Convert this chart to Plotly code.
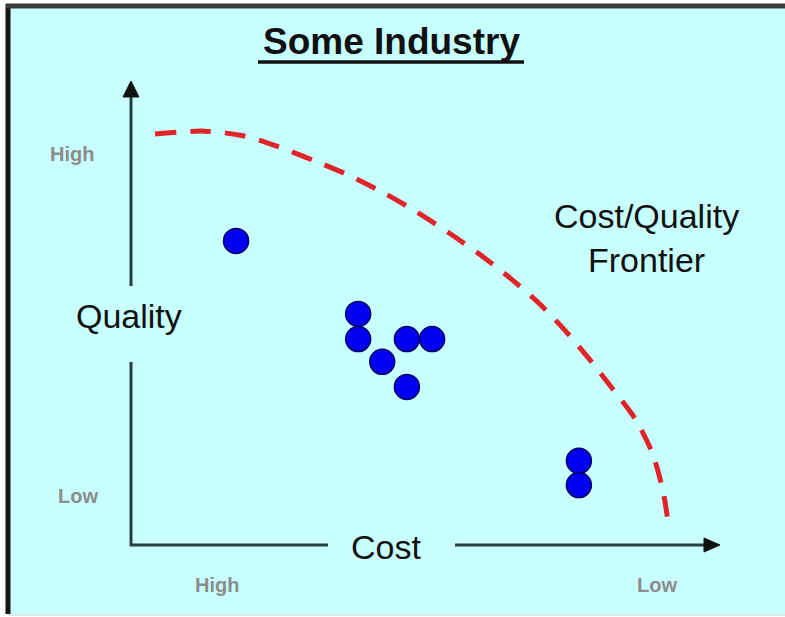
import plotly.graph_objects as go

# ---------------- data ----------------
# Cost axis: 0 = High cost (left) ... 100 = Low cost (right)
# Quality axis: 0 = Low ... 100 = High
company_cost = [17.9, 38.7, 38.7, 47.0, 51.3, 42.8, 47.0, 76.3, 76.3]
company_quality = [65.4, 49.7, 44.3, 44.3, 44.3, 39.4, 34.0, 18.1, 12.9]

frontier_cost = [4.1, 12.6, 19.1, 25.2, 31.3, 37.3, 43.1, 48.7, 54.2, 59.5,
                 64.6, 69.5, 73.9, 78.2, 82.1, 85.9, 88.8, 90.6, 91.5]
frontier_quality = [88.4, 89.0, 88.0, 85.6, 82.6, 79.4, 75.7, 71.6, 67.1, 62.4,
                    57.4, 52.0, 46.2, 39.8, 33.5, 27.1, 19.8, 11.8, 4.9]

title_text = "Some Industry"
x_axis_title = "Cost"
y_axis_title = "Quality"
x_tick_labels = ["High", "Low"]
y_tick_labels = ["High", "Low"]
frontier_label = "Cost/Quality<br>Frontier"

# ---------------- layout helpers ----------------
W, H = 785, 617
BG = "#c8ffff"
AXIS_COLOR = "#243f3f"
GRAY = "#8c8c8c"
FONT = "Liberation Sans, Arial, sans-serif"


def px(x, y):
    """pixel -> paper coordinates"""
    return x / W, 1 - y / H


def line_px(x0, y0, x1, y1, color, width):
    a, b = px(x0, y0)
    c, d = px(x1, y1)
    return dict(type="line", xref="paper", yref="paper", x0=a, y0=b, x1=c, y1=d,
                line=dict(color=color, width=width), layer="below")


def tri_px(pts, color):
    s = "M " + " L ".join(f"{px(x, y)[0]:.5f},{px(x, y)[1]:.5f}" for x, y in pts) + " Z"
    return dict(type="path", xref="paper", yref="paper", path=s,
                fillcolor=color, line=dict(color=color, width=1), layer="below")


def text_px(x, y, text, size, color="#111111", bold=False):
    a, b = px(x, y)
    return dict(x=a, y=b, xref="paper", yref="paper", text=f"<b>{text}</b>" if bold else text,
                showarrow=False, xanchor="center", yanchor="middle",
                font=dict(family=FONT, size=size, color=color))


fig = go.Figure()

fig.add_trace(go.Scatter(
    x=frontier_cost, y=frontier_quality, mode="lines",
    line=dict(color="#e0242a", width=5, dash="21px,14px", shape="spline", smoothing=0.8),
    hoverinfo="skip", showlegend=False))

fig.add_trace(go.Scatter(
    x=company_cost, y=company_quality, mode="markers",
    marker=dict(size=25, color="#0000f0", line=dict(color="#000060", width=1.5)),
    showlegend=False))

# data mapping: px = 131 + 5.87*x ; py = 545 - 4.65*y
x_range = [-131 / 5.87, (W - 131) / 5.87]
y_range = [(545 - H) / 4.65, 545 / 4.65]

shapes = []
# frame
a0, b0 = px(7, 6)
a1, b1 = px(W, 614)
shapes.append(dict(type="rect", xref="paper", yref="paper", x0=a0, y0=b1, x1=a1, y1=b0,
                   fillcolor=BG, line=dict(width=0), layer="below"))
shapes.append(line_px(8, 4, 8, 614, "#151515", 5))
shapes.append(line_px(6, 6, W, 6, "#3a3a3a", 5))
shapes.append(line_px(8, 615, W, 615, "#d8e8e8", 2))
# axes
shapes.append(line_px(131, 546, 131, 362, AXIS_COLOR, 3))
shapes.append(line_px(131, 286, 131, 95, AXIS_COLOR, 3))
shapes.append(line_px(130, 545, 328, 545, AXIS_COLOR, 3))
shapes.append(line_px(455, 545, 706, 545, AXIS_COLOR, 3))
shapes.append(tri_px([(131, 81), (123, 97), (139, 97)], "#111111"))
shapes.append(tri_px([(720, 545), (704, 538), (704, 552)], "#111111"))
# title underline
shapes.append(line_px(258, 62, 524, 62, "#111111", 3.5))

annotations = [
    text_px(391, 42, title_text, 37, bold=True),
    text_px(129, 316, y_axis_title, 34),
    text_px(386, 547, x_axis_title, 34),
    text_px(72, 154, y_tick_labels[0], 20, GRAY, bold=True),
    text_px(78, 496, y_tick_labels[1], 20, GRAY, bold=True),
    text_px(217, 585, x_tick_labels[0], 20, GRAY, bold=True),
    text_px(657, 585, x_tick_labels[1], 20, GRAY, bold=True),
]
a, b = px(646, 238)
annotations.append(dict(x=a, y=b, xref="paper", yref="paper", text=frontier_label,
                        showarrow=False, xanchor="center", yanchor="middle", align="center",
                        font=dict(family=FONT, size=34, color="#111111")))

fig.update_layout(
    width=W, height=H, autosize=False,
    margin=dict(l=0, r=0, t=0, b=0, pad=0),
    paper_bgcolor="white", plot_bgcolor="rgba(0,0,0,0)",
    xaxis=dict(range=x_range, visible=False, domain=[0, 1], fixedrange=True),
    yaxis=dict(range=y_range, visible=False, domain=[0, 1], fixedrange=True),
    shapes=shapes, annotations=annotations, showlegend=False,
)

fig.write_html("out.html")
